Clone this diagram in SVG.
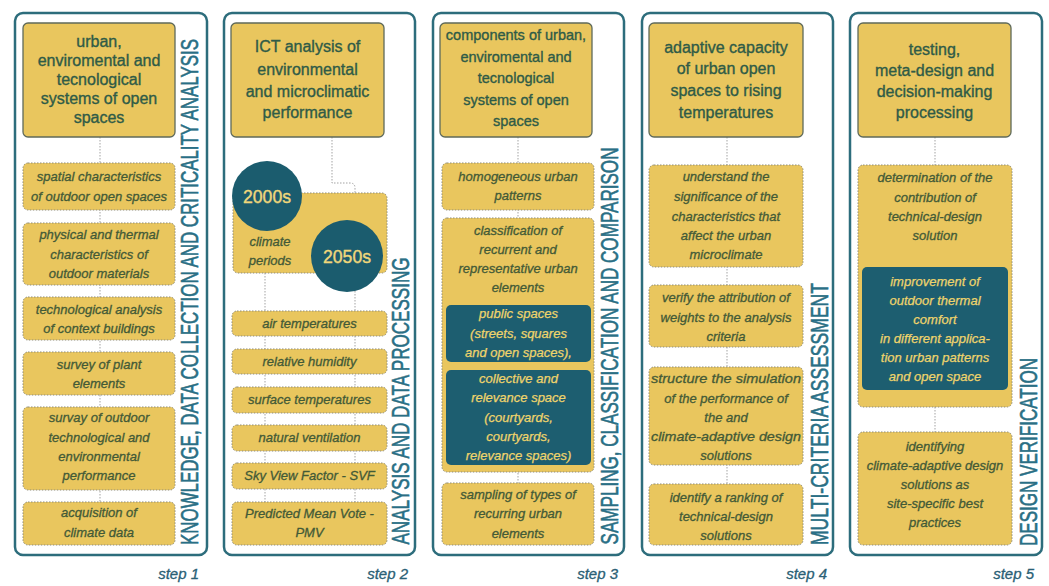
<svg xmlns="http://www.w3.org/2000/svg" width="1049" height="586" viewBox="0 0 1049 586">
<style>
.panel{fill:#fff;stroke:#2d6d7c;stroke-width:2.5}
.main{fill:#e9c65e;stroke:#5f6a5a;stroke-width:1.3}
.sub{fill:#e9c65e;stroke:#8f8c78;stroke-width:1;stroke-dasharray:1.5 1.5}
.dark{fill:#1d5e70}
.circ{fill:#1b5c6e}
text{font-family:"Liberation Sans",Arial,sans-serif}
.t{font-size:16px;fill:#2f5b47;stroke:#2f5b47;stroke-width:0.35;text-anchor:middle}
.t3{font-size:14.5px;fill:#2f5b47;stroke:#2f5b47;stroke-width:0.35;text-anchor:middle}
.i{font-size:13px;font-style:italic;fill:#435a37;stroke:#435a37;stroke-width:0.3;text-anchor:middle}
.d{font-size:13px;font-style:italic;fill:#efd46b;stroke:#efd46b;stroke-width:0.25;text-anchor:middle}
.y{font-size:19px;fill:#f0d77a;stroke:#f0d77a;stroke-width:0.4;text-anchor:middle}
.v{font-size:23px;fill:#2a6f85;stroke:#2a6f85;stroke-width:0.6;text-anchor:middle}
.s{font-size:15px;font-style:italic;fill:#2a6075;stroke:#2a6075;stroke-width:0.3;text-anchor:end}
.conn{stroke:#a3a3a3;stroke-width:1;stroke-dasharray:1.5 1.5;fill:none}
</style>
<rect width="1049" height="586" fill="#fff"/>
<g id="panels">
<rect class="panel" x="15" y="13" width="192" height="542" rx="8"/>
<rect class="panel" x="224" y="13" width="191" height="542" rx="8"/>
<rect class="panel" x="433" y="13" width="191" height="542" rx="8"/>
<rect class="panel" x="642" y="13" width="191" height="542" rx="8"/>
<rect class="panel" x="850" y="13" width="192" height="542" rx="8"/>
</g>
<g id="connectors">
<path class="conn" d="M100 137V502"/>
<path class="conn" d="M332 137V183H350Q355 183 355 188V193"/>
<path class="conn" d="M265 273V502M355 273V502"/>
<path class="conn" d="M518 137V483"/>
<path class="conn" d="M727 137V484"/>
<path class="conn" d="M935 137V432"/>
</g>
<g id="step1">
<g id="s1-main"><rect class="main" x="23" y="23" width="152" height="114" rx="5"/>
<text class="t" x="99"><tspan x="99" y="47">urban,</tspan><tspan x="99" y="66">enviromental and</tspan><tspan x="99" y="85">tecnological</tspan><tspan x="99" y="104">systems of open</tspan><tspan x="99" y="123">spaces</tspan></text></g>
<g id="s1-a"><rect class="sub" x="23" y="163" width="152" height="47" rx="5"/>
<text class="i"><tspan x="99" y="181">spatial characteristics</tspan><tspan x="99" y="201">of outdoor open spaces</tspan></text></g>
<g id="s1-b"><rect class="sub" x="23" y="223" width="152" height="62" rx="5"/>
<text class="i"><tspan x="99" y="239">physical and thermal</tspan><tspan x="99" y="259">characteristics of</tspan><tspan x="99" y="278">outdoor materials</tspan></text></g>
<g id="s1-c"><rect class="sub" x="23" y="297" width="152" height="43" rx="5"/>
<text class="i"><tspan x="99" y="314">technological analysis</tspan><tspan x="99" y="333">of context buildings</tspan></text></g>
<g id="s1-d"><rect class="sub" x="23" y="352" width="152" height="43" rx="5"/>
<text class="i"><tspan x="99" y="369">survey of plant</tspan><tspan x="99" y="388">elements</tspan></text></g>
<g id="s1-e"><rect class="sub" x="23" y="407" width="152" height="83" rx="5"/>
<text class="i"><tspan x="99" y="422">survay of outdoor</tspan><tspan x="99" y="442">technological and</tspan><tspan x="99" y="461">environmental</tspan><tspan x="99" y="480">performance</tspan></text></g>
<g id="s1-f"><rect class="sub" x="23" y="502" width="152" height="43" rx="5"/>
<text class="i"><tspan x="99" y="517">acquisition of</tspan><tspan x="99" y="537">climate data</tspan></text></g>
<text class="v" transform="translate(198,292) rotate(-90)" textLength="506" lengthAdjust="spacingAndGlyphs">KNOWLEDGE, DATA COLLECTION AND CRITICALITY ANALYSIS</text>
<text class="s" x="199" y="579">step 1</text>
</g>
<g id="step2">
<g id="s2-main"><rect class="main" x="231" y="23" width="153" height="114" rx="5"/>
<text class="t"><tspan x="307.5" y="52">ICT analysis of</tspan><tspan x="307.5" y="75">environmental</tspan><tspan x="307.5" y="97">and microclimatic</tspan><tspan x="307.5" y="118">performance</tspan></text></g>
<g id="s2-climate"><rect class="sub" x="233" y="193" width="154" height="80" rx="5"/>
<text class="i"><tspan x="270" y="246">climate</tspan><tspan x="270" y="265">periods</tspan></text>
<circle class="circ" cx="267" cy="196" r="35"/>
<text class="y" x="267" y="203" textLength="48" lengthAdjust="spacingAndGlyphs">2000s</text>
<circle class="circ" cx="347" cy="256" r="36"/>
<text class="y" x="347" y="263" textLength="48" lengthAdjust="spacingAndGlyphs">2050s</text></g>
<g id="s2-a"><rect class="sub" x="232" y="311" width="155" height="25" rx="5"/><text class="i" x="309.5" y="328">air temperatures</text></g>
<g id="s2-b"><rect class="sub" x="232" y="349" width="155" height="25" rx="5"/><text class="i" x="309.5" y="366">relative humidity</text></g>
<g id="s2-c"><rect class="sub" x="232" y="387" width="155" height="26" rx="5"/><text class="i" x="309.5" y="404">surface temperatures</text></g>
<g id="s2-d"><rect class="sub" x="232" y="425" width="155" height="26" rx="5"/><text class="i" x="309.5" y="442">natural ventilation</text></g>
<g id="s2-e"><rect class="sub" x="232" y="463" width="155" height="26" rx="5"/><text class="i" x="309.5" y="480">Sky View Factor - SVF</text></g>
<g id="s2-f"><rect class="sub" x="232" y="502" width="155" height="43" rx="5"/>
<text class="i"><tspan x="309.5" y="518">Predicted Mean Vote -</tspan><tspan x="309.5" y="537">PMV</tspan></text></g>
<text class="v" transform="translate(409,401) rotate(-90)" textLength="287" lengthAdjust="spacingAndGlyphs">ANALYSIS AND DATA PROCESSING</text>
<text class="s" x="408" y="579">step 2</text>
</g>
<g id="step3">
<g id="s3-main"><rect class="main" x="440" y="23" width="152" height="114" rx="5"/>
<text class="t3"><tspan x="516" y="40">components of urban,</tspan><tspan x="516" y="61.5">enviromental and</tspan><tspan x="516" y="83">tecnological</tspan><tspan x="516" y="104.5">systems of open</tspan><tspan x="516" y="126">spaces</tspan></text></g>
<g id="s3-a"><rect class="sub" x="442" y="163" width="152" height="47" rx="5"/>
<text class="i"><tspan x="518" y="181">homogeneous urban</tspan><tspan x="518" y="200">patterns</tspan></text></g>
<g id="s3-b"><rect class="sub" x="442" y="218" width="152" height="254" rx="5"/>
<text class="i"><tspan x="518" y="235">classification of</tspan><tspan x="518" y="254">recurrent and</tspan><tspan x="518" y="273">representative urban</tspan><tspan x="518" y="292">elements</tspan></text>
<rect class="dark" x="446" y="305" width="145" height="57" rx="5"/>
<text class="d"><tspan x="518.5" y="318">public spaces</tspan><tspan x="518.5" y="338">(streets, squares</tspan><tspan x="518.5" y="357">and open spaces),</tspan></text>
<rect class="dark" x="446" y="370" width="145" height="95" rx="5"/>
<text class="d"><tspan x="518.5" y="383">collective and</tspan><tspan x="518.5" y="402">relevance space</tspan><tspan x="518.5" y="422">(courtyards,</tspan><tspan x="518.5" y="441">courtyards,</tspan><tspan x="518.5" y="460">relevance spaces)</tspan></text></g>
<g id="s3-c"><rect class="sub" x="442" y="483" width="152" height="62" rx="5"/>
<text class="i"><tspan x="518" y="499">sampling of types of</tspan><tspan x="518" y="518">recurring urban</tspan><tspan x="518" y="538">elements</tspan></text></g>
<text class="v" transform="translate(618,346) rotate(-90)" textLength="397" lengthAdjust="spacingAndGlyphs">SAMPLING, CLASSIFICATION AND COMPARISON</text>
<text class="s" x="618" y="579">step 3</text>
</g>
<g id="step4">
<g id="s4-main"><rect class="main" x="649" y="23" width="154" height="114" rx="5"/>
<text class="t"><tspan x="726" y="53">adaptive capacity</tspan><tspan x="726" y="74">of urban open</tspan><tspan x="726" y="96">spaces to rising</tspan><tspan x="726" y="118">temperatures</tspan></text></g>
<g id="s4-a"><rect class="sub" x="649" y="165" width="154" height="102" rx="5"/>
<text class="i"><tspan x="726" y="181">understand the</tspan><tspan x="726" y="201">significance of the</tspan><tspan x="726" y="221">characteristics that</tspan><tspan x="726" y="240">affect the urban</tspan><tspan x="726" y="259">microclimate</tspan></text></g>
<g id="s4-b"><rect class="sub" x="649" y="285" width="154" height="62" rx="5"/>
<text class="i"><tspan x="726" y="302">verify the attribution of</tspan><tspan x="726" y="322">weights to the analysis</tspan><tspan x="726" y="341">criteria</tspan></text></g>
<g id="s4-c"><rect class="sub" x="649" y="367" width="154" height="98" rx="5"/>
<text class="i"><tspan x="726" y="383" textLength="150" lengthAdjust="spacingAndGlyphs">structure the simulation</tspan><tspan x="726" y="403">of the performance of</tspan><tspan x="726" y="422">the and</tspan><tspan x="726" y="441" textLength="150" lengthAdjust="spacingAndGlyphs">climate-adaptive design</tspan><tspan x="726" y="460">solutions</tspan></text></g>
<g id="s4-d"><rect class="sub" x="649" y="484" width="154" height="61" rx="5"/>
<text class="i"><tspan x="726" y="502">identify a ranking of</tspan><tspan x="726" y="521">technical-design</tspan><tspan x="726" y="540">solutions</tspan></text></g>
<text class="v" transform="translate(828,414) rotate(-90)" textLength="262" lengthAdjust="spacingAndGlyphs">MULTI-CRITERIA ASSESSMENT</text>
<text class="s" x="827" y="579">step 4</text>
</g>
<g id="step5">
<g id="s5-main"><rect class="main" x="858" y="23" width="153" height="114" rx="5"/>
<text class="t"><tspan x="934.5" y="55">testing,</tspan><tspan x="934.5" y="76">meta-design and</tspan><tspan x="934.5" y="97">decision-making</tspan><tspan x="934.5" y="118">processing</tspan></text></g>
<g id="s5-a"><rect class="sub" x="858" y="165" width="154" height="242" rx="5"/>
<text class="i"><tspan x="935" y="182">determination of the</tspan><tspan x="935" y="202">contribution of</tspan><tspan x="935" y="221">technical-design</tspan><tspan x="935" y="240">solution</tspan></text>
<rect class="dark" x="862" y="267" width="146" height="123" rx="5"/>
<text class="d"><tspan x="935" y="286">improvement of</tspan><tspan x="935" y="305">outdoor thermal</tspan><tspan x="935" y="324">comfort</tspan><tspan x="935" y="343">in different applica-</tspan><tspan x="935" y="362">tion urban patterns</tspan><tspan x="935" y="381">and open space</tspan></text></g>
<g id="s5-b"><rect class="sub" x="858" y="432" width="154" height="113" rx="5"/>
<text class="i"><tspan x="935" y="451">identifying</tspan><tspan x="935" y="470">climate-adaptive design</tspan><tspan x="935" y="489">solutions as</tspan><tspan x="935" y="508">site-specific best</tspan><tspan x="935" y="527">practices</tspan></text></g>
<text class="v" transform="translate(1037,452) rotate(-90)" textLength="188" lengthAdjust="spacingAndGlyphs">DESIGN VERIFICATION</text>
<text class="s" x="1034" y="579">step 5</text>
</g>
</svg>
